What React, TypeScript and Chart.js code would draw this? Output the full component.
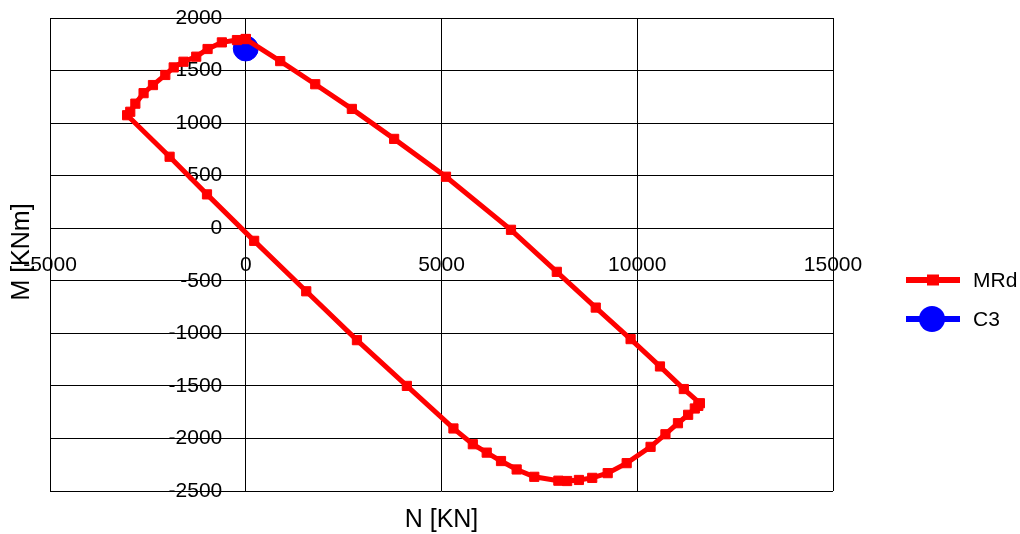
import React, { useEffect, useRef } from 'react';
import { Chart, registerables } from 'chart.js';

Chart.register(...registerables);

// MRd interaction curve: axial force N [KN] and moment M [KNm]
const mrdN = [
  0, 880, 1775, 2710, 3790, 5115, 6775, 7945, 8940, 9830, 10580, 11190, 11600,
  11560, 11470, 11300, 11040, 10720, 10340, 9730, 9245, 8850, 8510, 8210, 7985,
  7370, 6920, 6520, 6155, 5800, 5305, 4115, 2840, 1545, 215, -990, -1945, -3030,
  -2950, -2820, -2610, -2370, -2055, -1840, -1590, -1265, -975, -610, -225, 0,
];
const mrdM = [
  1800, 1590, 1370, 1135, 850, 490, -15, -415, -755, -1055, -1315, -1530, -1665,
  -1690, -1715, -1775, -1855, -1960, -2080, -2235, -2330, -2375, -2395, -2405, -2402,
  -2365, -2295, -2215, -2135, -2055, -1905, -1500, -1065, -600, -120, 322, 680, 1075,
  1108, 1185, 1285, 1362, 1458, 1530, 1584, 1632, 1705, 1768, 1790, 1800,
];
// C3 load point
const c3N = [0];
const c3M = [1710];

const seriesNames = ['MRd', 'C3'];
const xTitle = 'N [KN]';
const yTitle = 'M [KNm]';
const xMin = -5000;
const xMax = 15000;
const xStep = 5000;
const yMin = -2500;
const yMax = 2000;
const yStep = 500;

const FONT = '"Liberation Sans", Arial, sans-serif';
const RED = '#ff0000';
const BLUE = '#0000ff';

export default function App() {
  const ref = useRef<HTMLCanvasElement | null>(null);

  useEffect(() => {
    document.body.style.margin = '0';
    const canvas = ref.current;
    if (!canvas) return;

    const zeroPad = (scale: any) => {
      scale.paddingLeft = 0;
      scale.paddingRight = 0;
      scale.paddingTop = 0;
      scale.paddingBottom = 0;
    };

    const overlay = {
      id: 'overlay',
      afterDraw(chart: any) {
        const ctx = chart.ctx;
        const ca = chart.chartArea;
        ctx.save();
        ctx.fillStyle = '#000';
        ctx.font = `25px ${FONT}`;
        ctx.textAlign = 'center';
        ctx.textBaseline = 'middle';
        ctx.fillText(xTitle, (ca.left + ca.right) / 2, 520);
        ctx.save();
        ctx.translate(22, 252);
        ctx.rotate(-Math.PI / 2);
        ctx.fillText(yTitle, 0, 0);
        ctx.restore();

        // legend
        const items = [
          { name: seriesNames[0], color: RED, y: 280, marker: 'rect' },
          { name: seriesNames[1], color: BLUE, y: 319, marker: 'circle' },
        ];
        items.forEach((it) => {
          ctx.strokeStyle = it.color;
          ctx.fillStyle = it.color;
          ctx.lineWidth = 6;
          ctx.beginPath();
          ctx.moveTo(906, it.y);
          ctx.lineTo(960, it.y);
          ctx.stroke();
          ctx.beginPath();
          if (it.marker === 'rect') {
            ctx.rect(927, it.y - 5.5, 12, 11);
          } else {
            ctx.arc(932, it.y, 13, 0, Math.PI * 2);
          }
          ctx.fill();
          ctx.fillStyle = '#000';
          ctx.font = `21px ${FONT}`;
          ctx.textAlign = 'left';
          ctx.fillText(it.name, 973, it.y + 1);
        });
        ctx.restore();
      },
    };

    const chart = new Chart(canvas, {
      type: 'scatter',
      data: {
        datasets: [
          {
            label: seriesNames[0],
            data: mrdN.map((n, i) => ({ x: n, y: mrdM[i] })),
            showLine: true,
            borderColor: RED,
            backgroundColor: RED,
            borderWidth: 5,
            pointStyle: 'rect',
            pointRadius: 6.5,
            pointBorderWidth: 1,
            pointBorderColor: RED,
            pointBackgroundColor: RED,
            tension: 0,
          },
          {
            label: seriesNames[1],
            data: c3N.map((n, i) => ({ x: n, y: c3M[i] })),
            showLine: true,
            borderColor: BLUE,
            backgroundColor: BLUE,
            borderWidth: 5,
            pointStyle: 'circle',
            pointRadius: 12.5,
            pointBorderWidth: 1,
            pointBorderColor: BLUE,
            pointBackgroundColor: BLUE,
          },
        ],
      },
      options: {
        responsive: false,
        animation: false,
        layout: { padding: { left: 50, right: 187, top: 18, bottom: 43 } },
        plugins: {
          legend: { display: false },
          tooltip: { enabled: false },
        },
        scales: {
          x: {
            type: 'linear',
            position: { y: 0 } as any,
            min: xMin,
            max: xMax,
            afterFit: zeroPad,
            ticks: {
              stepSize: xStep,
              color: '#000',
              font: { size: 21, family: FONT },
              padding: 24,
              maxRotation: 0,
              callback: (v: any) => String(v),
            },
            grid: { color: '#000', lineWidth: 1, drawTicks: false, tickLength: 0 },
            border: { display: true, color: '#000', width: 1 },
          },
          y: {
            type: 'linear',
            // labels sit just left of the N = 0 line; the line itself is the x grid line at 0
            position: { x: -600 } as any,
            min: yMin,
            max: yMax,
            afterFit: zeroPad,
            ticks: {
              stepSize: yStep,
              color: '#000',
              font: { size: 21, family: FONT },
              callback: (v: any) => String(v),
            },
            grid: { color: '#000', lineWidth: 1, drawTicks: false, tickLength: 0 },
            border: { display: false },
          },
        },
      },
      plugins: [overlay],
    });

    return () => chart.destroy();
  }, []);

  return (
    <div style={{ position: 'absolute', left: 0, top: 0, width: 1020, height: 534 }}>
      <canvas ref={ref} width={1020} height={534} style={{ display: 'block' }} />
    </div>
  );
}
